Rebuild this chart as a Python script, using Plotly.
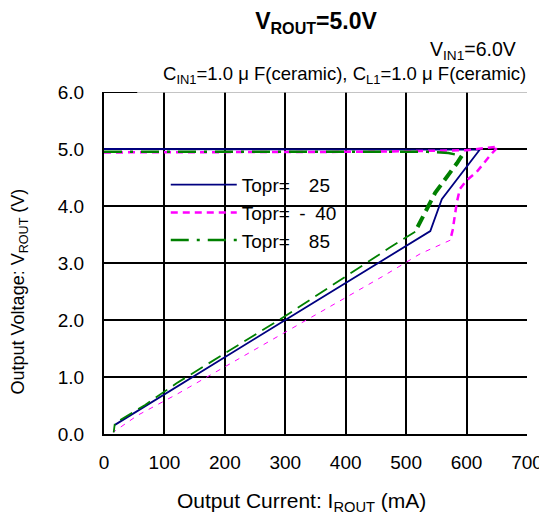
import plotly.graph_objects as go

# ---- data ----
I_25 = [0, 100, 200, 300, 400, 500, 600, 622, 559, 540, 300, 18]
V_25 = [5.0, 5.0, 5.0, 5.0, 5.0, 5.0, 5.0, 4.99, 4.12, 3.56, 2.0, 0.16]

I_m40_top = [0, 100, 200, 300, 400, 500, 600, 652, 640, 617, 600, 589, 584, 577, 573]
V_m40_top = [4.94, 4.94, 4.94, 4.95, 4.95, 4.96, 4.98, 5.04, 4.9, 4.6, 4.45, 4.3, 4.07, 3.58, 3.4]
I_m40_low = [573, 523, 462, 300, 121, 56, 15]
V_m40_low = [3.4, 3.16, 2.77, 1.79, 0.7, 0.33, 0.03]

I_85_top = [0, 100, 200, 300, 400, 500, 535, 570, 592]
V_85_top = [4.95, 4.95, 4.95, 4.95, 4.95, 4.95, 4.95, 4.93, 4.88]
I_85_mid = [592, 584, 548, 526, 515]
V_85_mid = [4.88, 4.75, 4.23, 3.79, 3.55]
I_85_low = [515, 473, 300, 120, 68, 18, 16]
V_85_low = [3.55, 3.27, 2.07, 0.89, 0.51, 0.19, 0.03]

x_ticks = [0, 100, 200, 300, 400, 500, 600, 700]
y_ticks = [0, 1, 2, 3, 4, 5, 6]
y_tick_text = ["0.0", "1.0", "2.0", "3.0", "4.0", "5.0", "6.0"]

NAVY = "#000080"
MAG = "#ff00ff"
GREEN = "#008000"
FONT = "Liberation Sans, Arial, sans-serif"
GAP = "\u2002\u2002"  # en spaces (not collapsed like ordinary spaces)

W, H = 539, 511  # page body adds an 8px margin around the figure

fig = go.Figure()
fig.add_trace(go.Scatter(x=I_25, y=V_25, mode="lines", name=f"Topr={GAP}25",
                         line=dict(color=NAVY, width=1.8), legendgroup="a"))
fig.add_trace(go.Scatter(x=I_m40_top, y=V_m40_top, mode="lines", name="Topr=\u2002-\u200240",
                         line=dict(color=MAG, width=2.5, dash="7px,5px"), legendgroup="b"))
fig.add_trace(go.Scatter(x=I_m40_low, y=V_m40_low, mode="lines", showlegend=False,
                         line=dict(color=MAG, width=1, dash="5px,6px"), legendgroup="b"))
fig.add_trace(go.Scatter(x=I_85_top, y=V_85_top, mode="lines", name=f"Topr={GAP}85",
                         line=dict(color=GREEN, width=2.5, dash="18px,8px,3px,8px"), legendgroup="c"))
fig.add_trace(go.Scatter(x=I_85_mid, y=V_85_mid, mode="lines", showlegend=False,
                         line=dict(color=GREEN, width=4, dash="12px,6px"), legendgroup="c"))
fig.add_trace(go.Scatter(x=I_85_low, y=V_85_low, mode="lines", showlegend=False,
                         line=dict(color=GREEN, width=1.8, dash="14px,7px"), legendgroup="c"))

# top edge: grey line with a short black segment at the left
fig.add_shape(type="line", xref="x", yref="y", x0=0, x1=700, y0=6, y1=6,
              line=dict(color="#b0b0b0", width=1.5), layer="above")
fig.add_shape(type="line", xref="x", yref="y", x0=0, x1=55, y0=6, y1=6,
              line=dict(color="black", width=2), layer="above")

fig.update_layout(
    width=W, height=H,
    margin=dict(l=96, r=20, t=84, b=85),
    plot_bgcolor="white", paper_bgcolor="white",
    font=dict(family=FONT, color="black", size=19),
    title=dict(text="<b>V<sub>ROUT</sub>=5.0V</b>", x=308 / W, xanchor="center",
               y=1 - 13 / H, yanchor="middle", font=dict(size=23, family=FONT)),
    showlegend=True,
    legend=dict(x=0.146, y=0.784, xanchor="left", yanchor="top", bgcolor="rgba(0,0,0,0)",
                font=dict(size=19, family=FONT), itemwidth=66, tracegroupgap=0,
                traceorder="grouped"),
    annotations=[
        dict(text="V<sub>IN1</sub>=6.0V", xref="paper", yref="paper", x=0.979, y=1.12,
             xanchor="right", yanchor="middle", showarrow=False, font=dict(size=19.5)),
        dict(text="C<sub>IN1</sub>=1.0 μ F(ceramic), C<sub>L1</sub>=1.0 μ F(ceramic)",
             xref="paper", yref="paper", x=1.002, y=1.05,
             xanchor="right", yanchor="middle", showarrow=False, font=dict(size=18.5)),
        dict(text="Output Current: I<sub>ROUT</sub> (mA)", xref="paper", yref="paper",
             x=0.467, y=-0.199, xanchor="center", yanchor="middle", showarrow=False,
             font=dict(size=21)),
        dict(text="Output Voltage: V<sub>ROUT</sub> (V)", xref="paper", yref="paper",
             x=-0.2, y=0.418, xanchor="center", yanchor="middle", showarrow=False,
             textangle=-90, font=dict(size=18)),
    ],
)

fig.update_xaxes(range=[0, 700], tickvals=x_ticks, ticktext=[str(v) for v in x_ticks],
                 showgrid=True, gridcolor="black", gridwidth=2, automargin=False,
                 showline=True, linecolor="black", linewidth=2, mirror=False,
                 ticks="outside", ticklen=10, tickcolor="rgba(0,0,0,0)",
                 zeroline=False, tickfont=dict(size=19))
fig.update_yaxes(range=[0, 6], tickvals=y_ticks, ticktext=y_tick_text,
                 showgrid=True, gridcolor="black", gridwidth=2, automargin=False,
                 showline=True, linecolor="black", linewidth=2, mirror=False,
                 ticks="outside", ticklen=14, tickcolor="rgba(0,0,0,0)",
                 zeroline=False, tickfont=dict(size=19))

fig.write_html("out.html")
